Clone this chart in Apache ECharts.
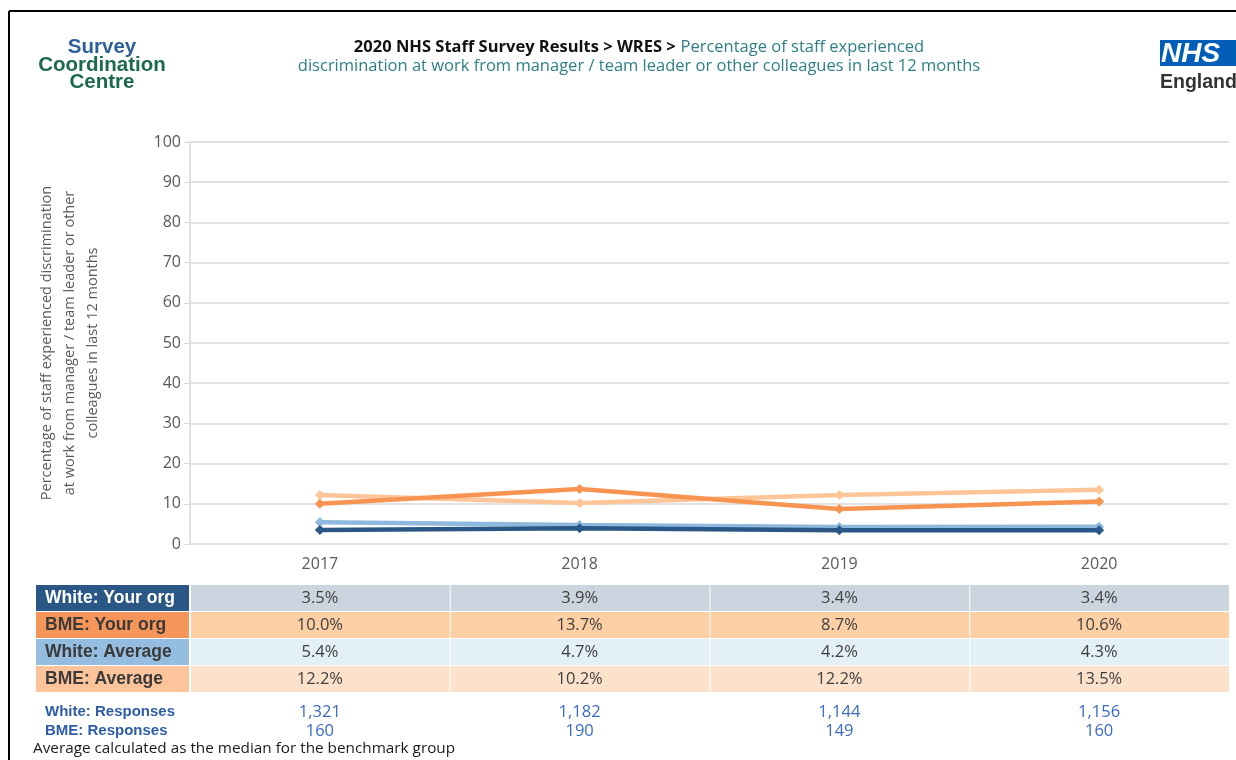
<!DOCTYPE html>
<html>
<head>
<meta charset="utf-8">
<script src="https://cdn.jsdelivr.net/npm/echarts@6/dist/echarts.min.js"></script>
<style>
  html, body { margin: 0; padding: 0; background: #fff; }
  #chart { width: 1236px; height: 760px; }
</style>
</head>
<body>
<div id="chart"></div>
<script>
// data
var years = ["2017", "2018", "2019", "2020"];
var whiteOrg = [3.5, 3.9, 3.4, 3.4];
var bmeOrg = [10.0, 13.7, 8.7, 10.6];
var whiteAvg = [5.4, 4.7, 4.2, 4.3];
var bmeAvg = [12.2, 10.2, 12.2, 13.5];
var whiteResponses = ["1,321", "1,182", "1,144", "1,156"];
var bmeResponses = ["160", "190", "149", "160"];
var yTicks = [0, 10, 20, 30, 40, 50, 60, 70, 80, 90, 100];

var FONT = "'Open Sans', 'Noto Sans', sans-serif";
var BOLD = "'Liberation Sans', Arial, sans-serif";

// table rows: label, values, label bg, label text, cell bg
var rows = [
  { name: "White: Your org", data: whiteOrg, line: "#2a5785", bg: "#2a5785", fg: "#ffffff", cell: "#cbd5df" },
  { name: "BME: Your org", data: bmeOrg, line: "#f79452", bg: "#f6955a", fg: "#3a3a3a", cell: "#fdcfa5" },
  { name: "White: Average", data: whiteAvg, line: "#8fb8de", bg: "#94bde0", fg: "#3a3a3a", cell: "#e3f0f7" },
  { name: "BME: Average", data: bmeAvg, line: "#fdc598", bg: "#fdc39a", fg: "#3a3a3a", cell: "#fde2cb" }
];

var myChart = echarts.init(document.getElementById("chart"));

var gridLeft = 190, gridRight = 1229;

// series drawn bottom-up: BME avg, BME org, White avg, White org
var series = [3, 1, 2, 0].map(function (i) {
  var r = rows[i];
  return {
    name: r.name,
    type: "line",
    data: r.data,
    symbol: "diamond",
    symbolSize: 10,
    itemStyle: { color: r.line },
    lineStyle: { width: 4.5, color: r.line },
    z: 3 + (3 - i)
  };
});

var option = {
  animation: false,
  textStyle: { fontFamily: FONT },
  title: [
    {
      left: 634,
      top: 33,
      textAlign: "center",
      text: "{b|2020 NHS Staff Survey Results > WRES >} {n|Percentage of staff experienced}\n{n|discrimination at work from manager / team leader or other colleagues in last 12 months}",
      textStyle: {
        fontWeight: "normal",
        rich: {
          b: { fontFamily: FONT, fontWeight: "bold", fontSize: 16.5, color: "#111", lineHeight: 19 },
          n: { fontFamily: FONT, fontWeight: "normal", fontSize: 16.5, color: "#2f7f86", lineHeight: 19 }
        }
      }
    },
    {
      left: 97,
      top: 34,
      textAlign: "center",
      text: "{s|Survey}\n{g|Coordination}\n{g|Centre}",
      textStyle: {
        rich: {
          s: { fontFamily: BOLD, fontWeight: "bold", fontSize: 20.5, color: "#2d5f9a", lineHeight: 17.5, align: "center" },
          g: { fontFamily: BOLD, fontWeight: "bold", fontSize: 20.5, color: "#1d6a4a", lineHeight: 17.5, align: "center" }
        }
      }
    }
  ],
  grid: { left: gridLeft, right: 1236 - gridRight, top: 142, bottom: 216, outerBoundsMode: "none" },
  xAxis: {
    type: "category",
    data: years,
    axisLine: { show: false },
    axisTick: { show: false },
    axisLabel: { color: "#595959", fontSize: 16, margin: 12, fontFamily: FONT }
  },
  yAxis: {
    type: "value",
    min: 0,
    max: 100,
    interval: 10,
    name: "Percentage of staff experienced discrimination\nat work from manager / team leader or other\ncolleagues in last 12 months",
    nameLocation: "middle",
    nameRotate: 90,
    nameGap: 86,
    nameTextStyle: { color: "#595959", fontSize: 14.5, lineHeight: 23, fontFamily: FONT, align: "center" },
    axisLine: { show: true, lineStyle: { color: "#d9d9d9", width: 1.5 } },
    axisTick: { show: true, length: 6, lineStyle: { color: "#d9d9d9" } },
    axisLabel: {
      color: "#595959",
      fontSize: 16,
      margin: 9,
      fontFamily: FONT,
      formatter: function (v) { return yTicks.indexOf(v) >= 0 ? String(v) : ""; }
    },
    splitLine: { lineStyle: { color: "#d9d9d9", width: 1.5 } }
  },
  series: series
};

myChart.setOption(option);

// table, responses and frame drawn as graphic elements
var g = [];
var band = (gridRight - gridLeft) / years.length;
var rowTop = 585, rowH = 26, rowGap = 1;

g.push({ type: "line", shape: { x1: 9, y1: 11, x2: 1236, y2: 11 }, style: { stroke: "#000", lineWidth: 2 } });
g.push({ type: "line", shape: { x1: 9, y1: 11, x2: 9, y2: 760 }, style: { stroke: "#000", lineWidth: 2 } });

// NHS England logo
g.push({ type: "rect", shape: { x: 1160, y: 40, width: 80, height: 26 }, style: { fill: "#005eb8" } });
g.push({ type: "text", x: 1161, y: 54, style: { text: "NHS", fill: "#fff", font: "italic bold 28px " + BOLD, verticalAlign: "middle" } });
g.push({ type: "text", x: 1160, y: 83, style: { text: "England", fill: "#333", font: "bold 19.5px " + BOLD, verticalAlign: "middle" } });

rows.forEach(function (r, ri) {
  var y = rowTop + ri * (rowH + rowGap);
  g.push({ type: "rect", shape: { x: 36, y: y, width: gridLeft - 37, height: rowH }, style: { fill: r.bg } });
  g.push({ type: "text", x: 45, y: y + rowH / 2, style: { text: r.name, fill: r.fg, font: "bold 17.5px " + BOLD, verticalAlign: "middle" } });
  r.data.forEach(function (v, ci) {
    var cx = myChart.convertToPixel({ xAxisIndex: 0 }, years[ci]);
    var x0 = gridLeft + ci * band;
    g.push({ type: "rect", shape: { x: x0 + 1, y: y, width: band - 1, height: rowH }, style: { fill: r.cell } });
    g.push({ type: "text", x: cx, y: y + rowH / 2, style: { text: v.toFixed(1) + "%", fill: "#404040", font: "16.5px " + FONT, align: "center", verticalAlign: "middle" } });
  });
});

var respY = [712, 731];
[["White: Responses", whiteResponses], ["BME: Responses", bmeResponses]].forEach(function (p, pi) {
  g.push({ type: "text", x: 45, y: respY[pi], style: { text: p[0], fill: "#2e5ca8", font: "bold 15px " + BOLD, verticalAlign: "middle" } });
  p[1].forEach(function (v, ci) {
    var cx = myChart.convertToPixel({ xAxisIndex: 0 }, years[ci]);
    g.push({ type: "text", x: cx, y: respY[pi], style: { text: v, fill: "#3a6cc4", font: "16.5px " + FONT, align: "center", verticalAlign: "middle" } });
  });
});
g.push({ type: "text", x: 33, y: 749, style: { text: "Average calculated as the median for the benchmark group", fill: "#1a1a1a", font: "15.3px " + FONT, verticalAlign: "middle" } });

myChart.setOption({ graphic: g });
</script>
</body>
</html>
